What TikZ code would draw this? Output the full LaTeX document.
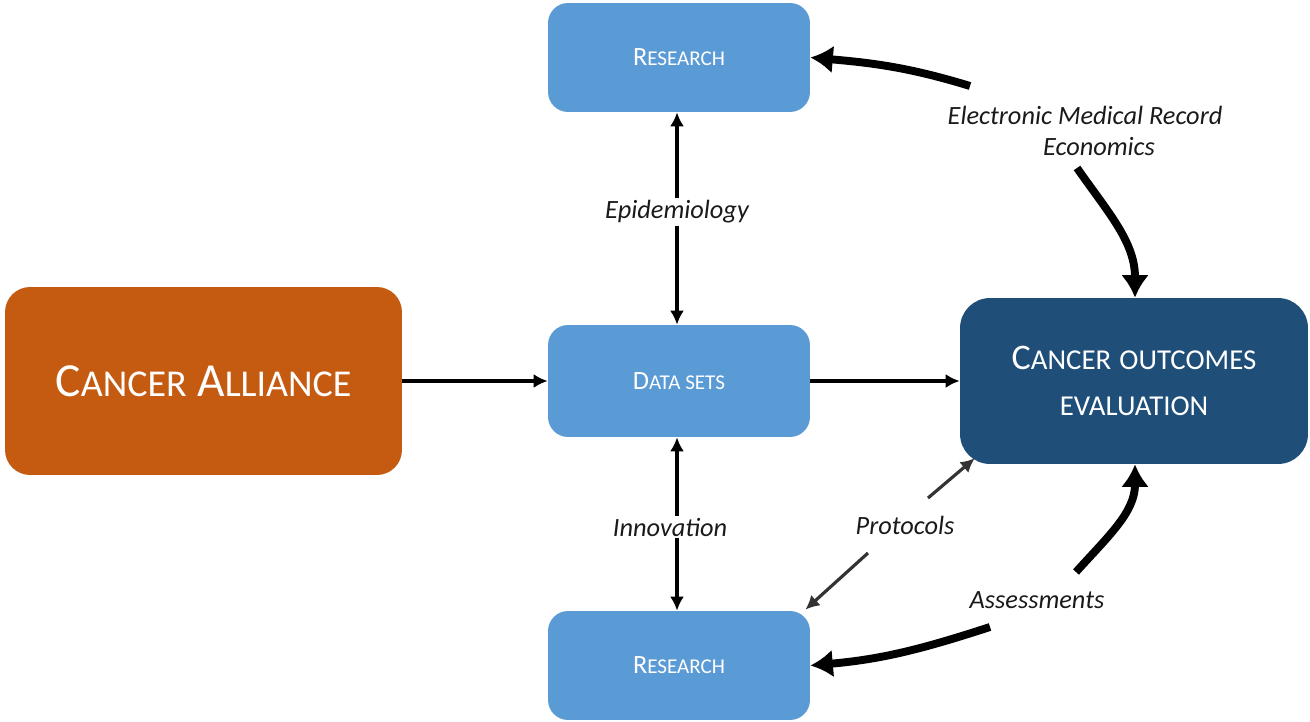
\documentclass[tikz,border=0pt]{standalone}
\usepackage{fontspec}
\setmainfont{Carlito}
\usetikzlibrary{arrows.meta}
\definecolor{allianceorange}{HTML}{C55A11}
\definecolor{lightblue}{HTML}{5B9BD5}
\definecolor{darkblue}{HTML}{1F4E79}
\definecolor{labelink}{HTML}{1A1A1A}
% hand-made small capitals: first letter full size, the rest at 80%
\makeatletter
\newcommand\fsc[2]{#1{\fontsize{\strip@pt\dimexpr0.8\dimexpr\f@size pt\relax\relax}{0}\selectfont #2}}
\makeatother
\begin{document}
\begin{tikzpicture}[x=0.02cm, y=-0.02cm,
  box/.style={rounded corners=0.4cm, text=white, inner sep=0pt, align=center},
  bluebox/.style={box, fill=lightblue, minimum width=5.24cm, minimum height=2.18cm,
    font=\fontsize{15}{18}\selectfont},
  lbl/.style={font=\fontsize{15}{17.5}\selectfont\itshape, text=labelink, inner sep=1pt, align=center},
  conn/.style={-{Latex[length=0.28cm,width=0.28cm]}, line width=1.8pt},
  protoline/.style={-{Latex[length=0.28cm,width=0.28cm]}, line width=1.8pt, black!80},
  heavy/.style={-{Latex[length=0.45cm,width=0.56cm]}, line width=4.5pt}]
\useasboundingbox (0,0) rectangle (1310,722);

% boxes
\node[box, fill=allianceorange, minimum width=7.94cm, minimum height=3.76cm,
  rounded corners=0.5cm, font=\fontsize{27}{32}\selectfont]
  (alliance) at (203.5,381) {\fsc{C}{ANCER} \fsc{A}{LLIANCE}};
\node[bluebox] (rt) at (679,57.5) {\fsc{R}{ESEARCH}};
\node[bluebox, minimum height=2.24cm] (ds) at (679,381) {\fsc{D}{ATA SETS}};
\node[bluebox] (rb) at (679,665.5) {\fsc{R}{ESEARCH}};
\node[box, fill=darkblue, minimum width=6.96cm, minimum height=3.32cm,
  rounded corners=0.6cm, font=\fontsize{20.5}{26}\selectfont]
  (coe) at (1134,381) {\fsc{C}{ANCER} \fsc{}{OUTCOMES}\\\fsc{}{EVALUATION}};

% labels
\node[lbl] (epi) at (677,212) {Epidemiology};
\node[lbl] (inno) at (670,527) {Innovation};
\node[lbl] (emr) at (1085,131) {Electronic Medical Record\\\hspace*{0.56cm}Economics};
\node[lbl] (prot) at (905,525) {Protocols};
\node[lbl] (assess) at (1037,600) {Assessments};

% straight flows
\draw[conn] (alliance) -- (ds);
\draw[conn] (ds) -- (coe);
\draw[conn] (epi.north -| 677,0) -- (rt.south -| 677,0);
\draw[conn] (epi.south -| 677,0) -- (ds.north -| 677,0);
\draw[conn] (inno.north -| 677,0) -- (ds.south -| 677,0);
\draw[conn] (inno.south -| 677,0) -- (rb.north -| 677,0);

% protocols
\coordinate (p1) at (928,498);
\coordinate (p2) at (868,553);
\draw[protoline] (p1) -- ([shift={(15,-6)}]coe.south west);
\draw[protoline] (p2) -- ([shift={(-5,-1)}]rb.north east);

% heavy curved flows
\coordinate (e1) at (970,86);
\coordinate (e2) at (1077,168);
\coordinate (a1) at (1076,572);
\coordinate (a2) at (990,627);
\draw[heavy] (e1) to[out=163,in=-5] (rt.east);
\draw[heavy] (e2) to[out=-55,in=90] (coe.north -| 1135,0);
\draw[heavy] (a1) to[out=48,in=-90] (coe.south -| 1135,0);
\draw[heavy] (a2) to[out=198,in=5] (rb.east);
\end{tikzpicture}
\end{document}
